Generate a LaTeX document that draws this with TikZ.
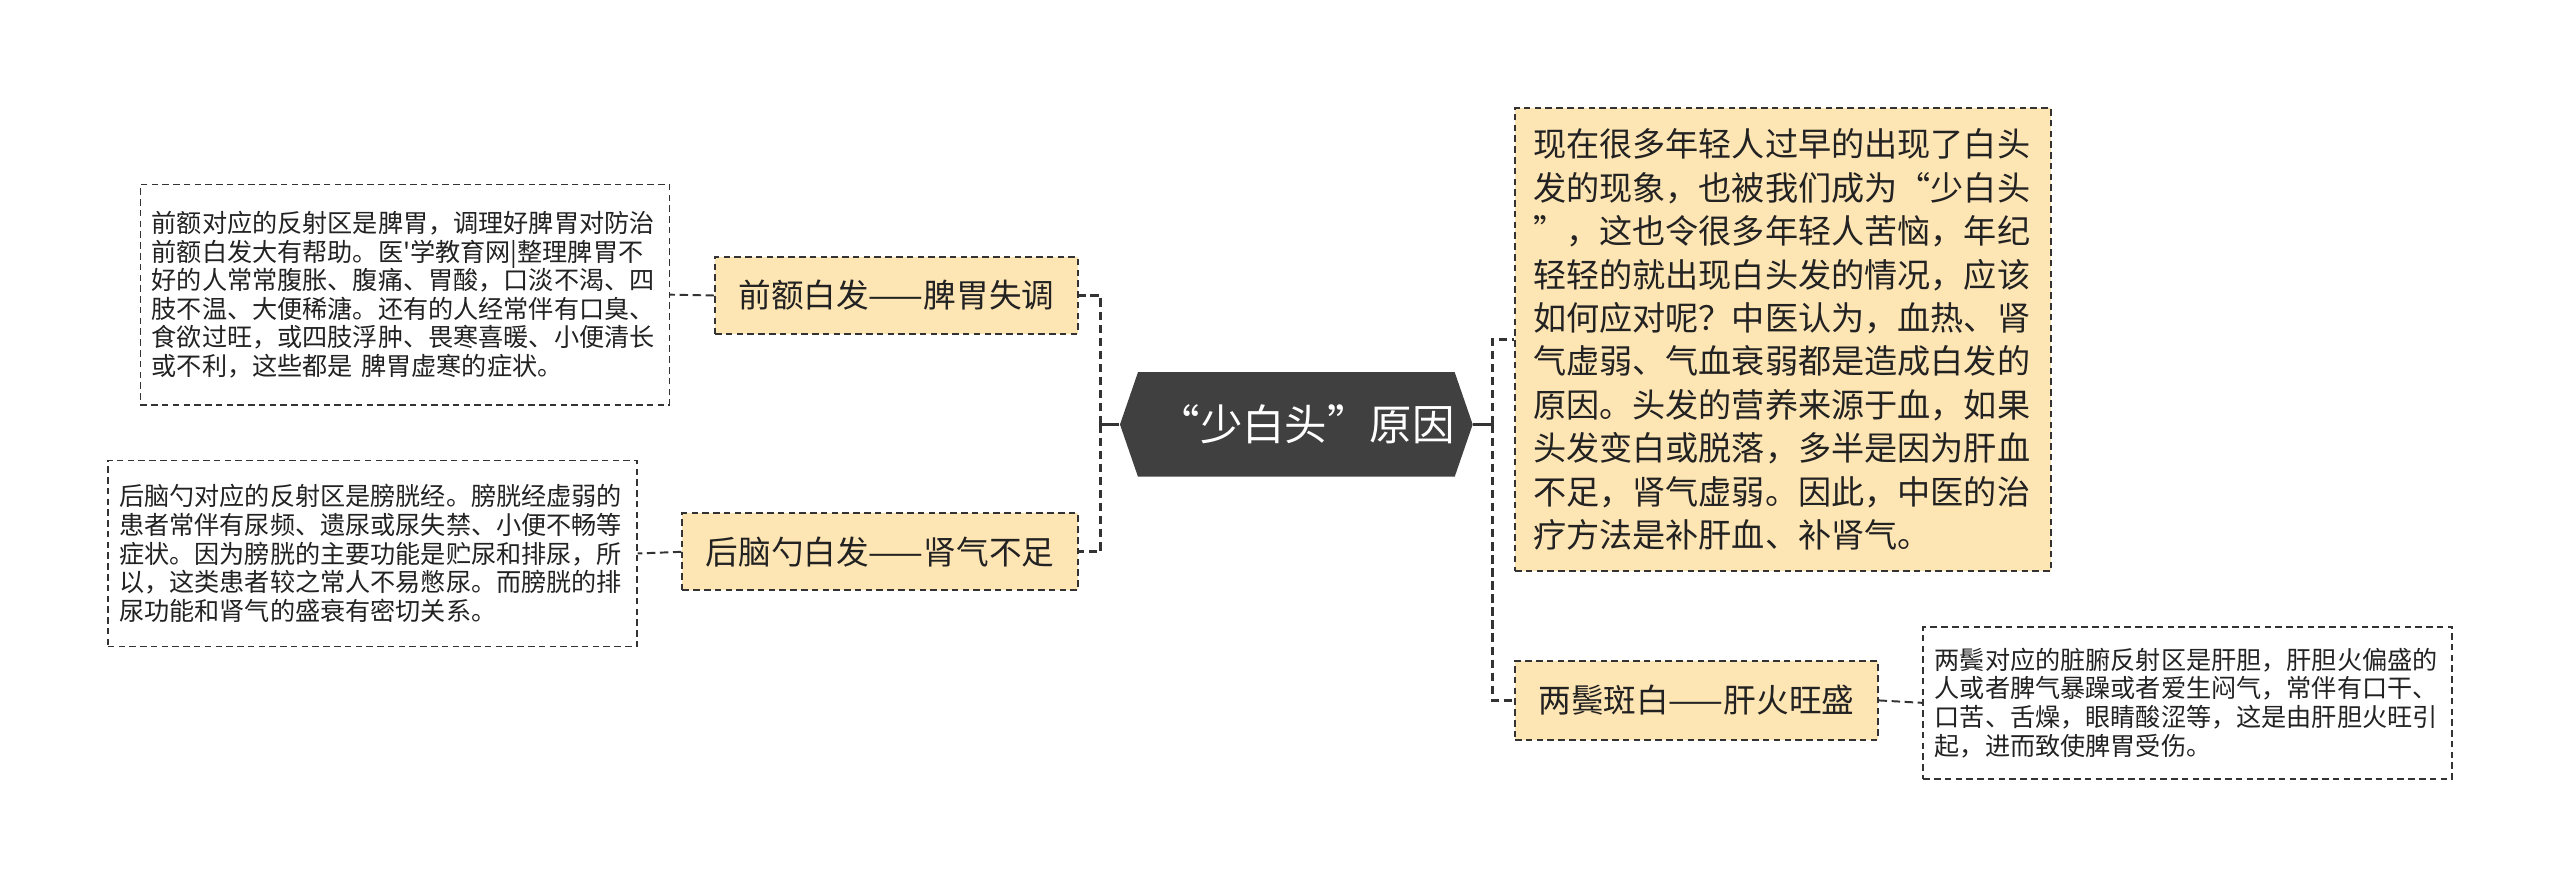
\documentclass[tikz,border=0pt]{standalone}
\usepackage{fontspec}
\setmainfont{Noto Sans CJK SC}[Ligatures=TeXOff]
\usetikzlibrary{shapes.symbols}
\definecolor{topicfill}{RGB}{254,229,180}
\definecolor{rootfill}{RGB}{64,64,64}
\definecolor{linegray}{RGB}{51,51,51}
\definecolor{inkgray}{RGB}{34,34,34}

\begin{document}
\begin{tikzpicture}[x=0.5pt,y=-0.5pt,
  every node/.style={text=inkgray,inner sep=0pt},
  rootbox/.style={shape=signal,signal to=west and east,signal pointer angle=142,fill=rootfill,text=white,minimum width=106pt,minimum height=32pt,font=\fontsize{13}{15}\selectfont},
  topicbox/.style={draw=linegray,fill=topicfill,line width=.6pt,dash pattern=on 2pt off 1.3pt,minimum height=23.5pt,font=\fontsize{10}{12}\selectfont},
  notebox/.style={draw=linegray,fill=white,line width=.5pt,dash pattern=on 2pt off 1.3pt,align=left,text width=155pt,minimum width=162pt,font=\fontsize{7.7}{8.75}\selectfont},
  link/.style={draw=linegray,line width=.9pt,dash pattern=on 2.6pt off 1.4pt},
  stub/.style={draw=linegray,line width=.9pt}]
\useasboundingbox (0,0) rectangle (1568,544);
\node[rootbox] (root) at (794,260) {\hspace{6pt}“少白头”原因};
\node[topicbox,minimum width=111pt] (front) at (549,181) {前额白发——脾胃失调};
\node[topicbox,minimum width=121pt] (back) at (539,338) {后脑勺白发——肾气不足};
\node[topicbox,minimum width=164pt,minimum height=142pt,align=left,text width=153pt,font=\fontsize{10.15}{13.3}\selectfont] (cause) at (1092,208) {现在很多年轻人过早的出现了白头\\发的现象，也被我们成为“少白头\\”，这也令很多年轻人苦恼，年纪\\轻轻的就出现白头发的情况，应该\\如何应对呢？中医认为，血热、肾\\气虚弱、气血衰弱都是造成白发的\\原因。头发的营养来源于血，如果\\头发变白或脱落，多半是因为肝血\\不足，肾气虚弱。因此，中医的治\\疗方法是补肝血、补肾气。};
\node[topicbox,minimum width=111pt,minimum height=24pt] (temple) at (1039,429) {两鬓斑白——肝火旺盛};
\node[notebox,minimum height=67.5pt] (frontnote) at (248,180.5) {前额对应的反射区是脾胃，调理好脾胃对防治\\前额白发大有帮助。医'学教育网|整理脾胃不\\好的人常常腹胀、腹痛、胃酸，口淡不渴、四\\肢不温、大便稀溏。还有的人经常伴有口臭、\\食欲过旺，或四肢浮肿、畏寒喜暖、小便清长\\或不利，这些都是 脾胃虚寒的症状。};
\node[notebox,minimum height=57pt] (backnote) at (228,339) {后脑勺对应的反射区是膀胱经。膀胱经虚弱的\\患者常伴有尿频、遗尿或尿失禁、小便不畅等\\症状。因为膀胱的主要功能是贮尿和排尿，所\\以，这类患者较之常人不易憋尿。而膀胱的排\\尿功能和肾气的盛衰有密切关系。};
\node[notebox,minimum height=46.5pt] (templenote) at (1340,430.5) {两鬓对应的脏腑反射区是肝胆，肝胆火偏盛的\\人或者脾气暴躁或者爱生闷气，常伴有口干、\\口苦、舌燥，眼睛酸涩等，这是由肝胆火旺引\\起，进而致使脾胃受伤。};
\coordinate (jl) at (674,260);
\coordinate (jr) at (914,260);
\draw[stub] (root.west) -- (jl);
\draw[link] (jl) |- (front.east);
\draw[link] (jl) |- (back.east);
\draw[stub] (root.east) -- (jr);
\draw[link] (jr) |- (cause.west);
\draw[link] (jr) |- (temple.west);
\draw[link,line width=.6pt] (front.west) -- (frontnote.east);
\draw[link,line width=.6pt] (back.west) -- (backnote.east);
\draw[link,line width=.6pt] (temple.east) -- (templenote.west);
\end{tikzpicture}
\end{document}
